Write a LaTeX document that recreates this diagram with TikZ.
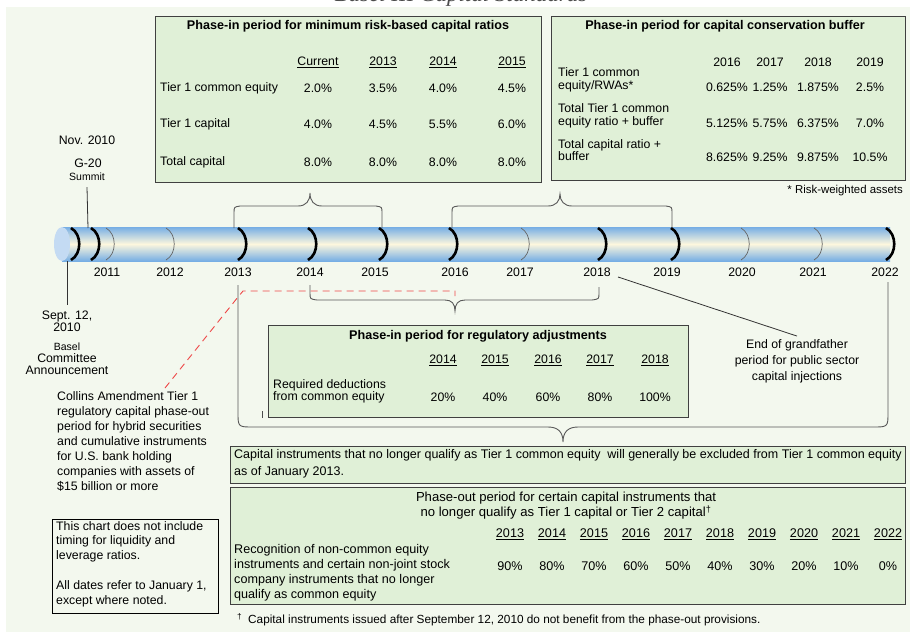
\documentclass[tikz,border=0pt]{standalone}
\usepackage{fontspec}
\setmainfont{Liberation Sans}
\newfontfamily\titlefont{Liberation Serif}
\definecolor{bgpale}{RGB}{243,248,238}
\definecolor{boxgreen}{RGB}{224,240,215}
\definecolor{tubeblue}{RGB}{118,174,228}
\definecolor{tubecream}{RGB}{253,247,222}
\definecolor{capblue}{RGB}{196,219,243}
\definecolor{dashred}{RGB}{238,72,72}
\tikzset{
  tbox/.style={draw=black!75, line width=1.1pt, fill=boxgreen, inner sep=0pt, anchor=north west},
  txt/.style={inner sep=0pt, font=\fontsize{12.3}{14}\selectfont},
  bodytxt/.style={inner sep=0pt, font=\fontsize{12.6}{15}\selectfont},
  foot/.style={inner sep=0pt, font=\fontsize{11.4}{12}\selectfont},
  ttl/.style={inner sep=0pt, font=\bfseries\fontsize{12.6}{14}\selectfont},
  brace/.style={draw=black!65, line width=0.9pt},
  leader/.style={draw=black!80, line width=0.8pt},
  yeartick/.style={draw=black, line width=2.6pt},
  thintick/.style={draw=black!60, line width=0.7pt},
  reddash/.style={draw=dashred, dash pattern=on 7pt off 5pt, line width=0.9pt}
}
\begin{document}
\begin{tikzpicture}[x=1pt,y=-1pt]
\useasboundingbox (0,0) rectangle (910,632);
\fill[white] (0,0) rectangle (910,632);
\fill[bgpale] (6,7) rectangle (910,632);
\begin{scope}
  \clip (0,0) rectangle (910,7);
  \node[anchor=base, inner sep=0pt, text=black!70, font=\titlefont\itshape\fontsize{23}{23}\selectfont] (title) at (461,1) {Basel III Capital Standards};
\end{scope}

% minimum risk-based capital ratios
\node[tbox, minimum width=386pt, minimum height=166pt] (ratiobox) at (155,16) {};
\node[ttl] (ratiottl) at (348,26) {Phase-in period for minimum risk-based capital ratios};
\foreach \hd/\x in {Current/318, 2013/383, 2014/443, 2015/512}
  \node[txt] (rh\hd) at (\x,62) {\underline{\hd}};
\node[txt, anchor=west] (rrow1) at (160,88) {Tier 1 common equity};
\node[txt, anchor=west] (rrow2) at (160,124) {Tier 1 capital};
\node[txt, anchor=west] (rrow3) at (160,162) {Total capital};
\foreach \y/\a/\b/\c/\d [count=\r] in {88/2.0/3.5/4.0/4.5, 124/4.0/4.5/5.5/6.0, 162/8.0/8.0/8.0/8.0} {
  \node[txt] (rv\r-1) at (318,\y) {\a\%};
  \node[txt] (rv\r-2) at (383,\y) {\b\%};
  \node[txt] (rv\r-3) at (443,\y) {\c\%};
  \node[txt] (rv\r-4) at (512,\y) {\d\%};
}

% capital conservation buffer
\node[tbox, minimum width=354pt, minimum height=164pt] (bufbox) at (551,16) {};
\node[ttl] (bufttl) at (725,26) {Phase-in period for capital conservation buffer};
\foreach \hd/\x in {2016/727, 2017/770, 2018/818, 2019/870}
  \node[txt] (bh\hd) at (\x,62) {\hd};
\node[txt, anchor=west, align=left, font=\fontsize{12.3}{12.5}\selectfont] (brow1) at (558,80) {Tier 1 common\\equity/RWAs*};
\node[txt, anchor=west, align=left, font=\fontsize{12.3}{12.5}\selectfont] (brow2) at (558,116) {Total Tier 1 common\\equity ratio + buffer};
\node[txt, anchor=west, align=left, font=\fontsize{12.3}{12.5}\selectfont] (brow3) at (558,150) {Total capital ratio +\\buffer};
\foreach \y/\a/\b/\c/\d [count=\r] in {87/0.625/1.25/1.875/2.5, 123/5.125/5.75/6.375/7.0, 157/8.625/9.25/9.875/10.5} {
  \node[txt] (bv\r-1) at (727,\y) {\a\%};
  \node[txt] (bv\r-2) at (770,\y) {\b\%};
  \node[txt] (bv\r-3) at (818,\y) {\c\%};
  \node[txt] (bv\r-4) at (870,\y) {\d\%};
}
\node[foot, anchor=east] (rwanote) at (903,191) {* Risk-weighted assets};

% timeline tube
\shade[top color=tubeblue, bottom color=tubeblue, middle color=tubecream] (62,227) rectangle (890,261);
\fill[capblue] (62,244) ellipse (8 and 17);
\foreach \x in {80,100,247,317,388,458,607,680,895}
  \draw[yeartick] (\x-9,228) .. controls (\x+2,234) and (\x+2,254) .. (\x-9,260);
\foreach \x in {115,175,530,750,823}
  \draw[thintick] (\x-9,228) .. controls (\x+2,234) and (\x+2,254) .. (\x-9,260);
\foreach \yr/\x in {2011/107, 2012/170, 2013/238, 2014/310, 2015/375, 2016/455, 2017/520, 2018/597, 2019/667, 2020/742, 2021/813, 2022/885}
  \node[txt] (y\yr) at (\x,272) {\yr};

% braces above the tube
\draw[brace] (234,228) -- (234,213) .. controls (234,207) .. (240,206) -- (298,206) .. controls (306,206) and (310,201) .. (310,193) .. controls (310,201) and (314,206) .. (322,206) -- (376,206) .. controls (382,207) .. (382,213) -- (382,228);
\draw[brace] (452,228) -- (452,213) .. controls (452,207) .. (458,206) -- (548,206) .. controls (556,206) and (560,201) .. (560,194) .. controls (560,201) and (564,206) .. (572,206) -- (666,206) .. controls (672,207) .. (672,213) -- (672,228);

% braces below the tube
\draw[brace] (310,285) -- (310,293) .. controls (310,299) .. (317,300) -- (445,300) .. controls (452,300) and (455,304) .. (455,311) .. controls (455,304) and (458,300) .. (465,300) -- (592,300) .. controls (599,299) .. (599,293) -- (599,287);
\draw[brace] (238,285) -- (238,412) .. controls (238,427) .. (253,427) -- (548,427) .. controls (558,427) and (563,432) .. (563,442) .. controls (563,432) and (568,427) .. (578,427) -- (873,427) .. controls (888,427) .. (888,412) -- (888,282);
\draw[black!70, line width=0.8pt] (262,411) -- (262,418);

% events on the timeline
\node[txt] (nov) at (87,140) {Nov. 2010};
\node[txt] (g20) at (88,163) {G-20};
\node[foot, font=\fontsize{10.5}{12}\selectfont] (summit) at (87,177) {Summit};
\coordinate (novtube) at (88,228);
\draw[leader] ([yshift=-6pt]summit.south) -- (novtube);

\coordinate (septtube) at (67,261);
\node[txt, align=center, font=\fontsize{12.3}{12}\selectfont] (sept) at (67,321) {Sept. 12,\\2010};
\draw[leader] (septtube) -- ([yshift=5pt]sept.north);
\node[foot, font=\fontsize{10.5}{12}\selectfont] (basel) at (67,347) {Basel};
\node[txt, align=center, font=\fontsize{12.3}{12}\selectfont] (basel2) at (67,364) {Committee\\Announcement};

\node[txt, anchor=north west, align=left, font=\fontsize{12.3}{15}\selectfont] (collins) at (57,391) {Collins Amendment Tier 1\\regulatory capital phase-out\\period for hybrid securities\\and cumulative instruments\\for U.S. bank holding\\companies with assets of\\\$15 billion or more};
\coordinate (collinstop) at (165,388);
\draw[reddash] (collinstop) -- (238,297) -- (243,291) -- (455,291) -- (455,296);

\coordinate (gfstart) at (618,277);
\node[txt, align=center, font=\fontsize{12.3}{16}\selectfont] (grand) at (797,361) {End of grandfather\\period for public sector\\capital injections};
\draw[leader] (gfstart) -- ([yshift=3pt]grand.north);

\node[draw=black, line width=1pt, anchor=north west, minimum width=166pt, minimum height=94pt, inner sep=0pt] (notebox) at (52,519) {};
\node[txt, anchor=north west, align=left, font=\fontsize{12.3}{14.5}\selectfont] (notetext) at (56,521) {This chart does not include\\timing for liquidity and\\leverage ratios.\\[16pt]All dates refer to January 1,\\except where noted.};

% regulatory adjustments
\node[tbox, minimum width=420pt, minimum height=92pt] (adjbox) at (268,325) {};
\node[ttl] (adjttl) at (478,336) {Phase-in period for regulatory adjustments};
\foreach \yr/\v/\x in {2014/20/443, 2015/40/495, 2016/60/548, 2017/80/600, 2018/100/655} {
  \node[txt] (ah\yr) at (\x,360) {\underline{\yr}};
  \node[txt] (av\yr) at (\x,397) {\v\%};
}
\node[txt, anchor=west, align=left, font=\fontsize{12.3}{12}\selectfont] (adjrow) at (273,391) {Required deductions\\from common equity};

% phase-out of capital instruments
\node[tbox, minimum width=675pt, minimum height=37pt] (capbox) at (230,446) {};
\node[bodytxt, anchor=north west, align=left, font=\fontsize{12.5}{17}\selectfont] (captext) at (234,449) {Capital instruments that no longer qualify as Tier 1 common equity \ will generally be excluded from Tier 1 common equity\\as of January 2013.};
\node[tbox, minimum width=675pt, minimum height=117pt] (outbox) at (230,487) {};
\node[bodytxt, align=center, font=\fontsize{13.1}{15}\selectfont] (outttl) at (566,506) {Phase-out period for certain capital instruments that\\no longer qualify as Tier 1 capital or Tier 2 capital\textsuperscript{†}};
\foreach \yr/\v [count=\i] in {2013/90, 2014/80, 2015/70, 2016/60, 2017/50, 2018/40, 2019/30, 2020/20, 2021/10, 2022/0} {
  \node[bodytxt] (oh\yr) at ({468+42*\i},534) {\underline{\yr}};
  \node[bodytxt] (ov\yr) at ({468+42*\i},566) {\v\%};
}
\node[bodytxt, anchor=west, align=left] (outrow) at (234,573) {Recognition of non-common equity\\instruments and certain non-joint stock\\company instruments that no longer\\qualify as common equity};
\node[foot, anchor=west, font=\fontsize{11.8}{12}\selectfont] (dagnote) at (237,620) {\textsuperscript{†}\enspace Capital instruments issued after September 12, 2010 do not benefit from the phase-out provisions.};
\end{tikzpicture}
\end{document}
